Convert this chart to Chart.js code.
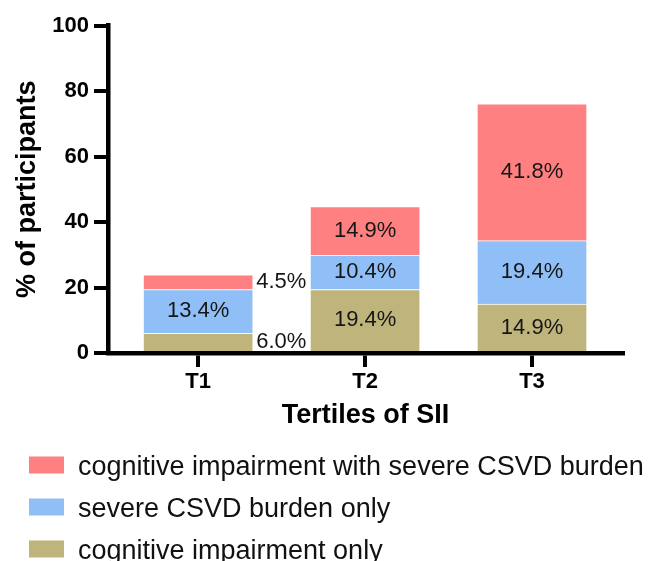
<!DOCTYPE html>
<html>
<head>
<meta charset="utf-8">
<script src="https://cdn.jsdelivr.net/npm/chart.js@4/dist/chart.umd.min.js"></script>
<style>
  html, body { margin: 0; padding: 0; background: #ffffff; }
  #wrap { width: 652px; height: 561px; }
</style>
</head>
<body>
<div id="wrap"><canvas id="c" width="652" height="561"></canvas></div>
<script>
// ---- data ----
const categories = ['T1', 'T2', 'T3'];
const cognitiveOnly = [6.0, 19.4, 14.9];
const severeCsvdOnly = [13.4, 10.4, 19.4];
const cognitiveWithCsvd = [4.5, 14.9, 41.8];
const yTicks = [0, 20, 40, 60, 80, 100];
const seriesNames = [
  'cognitive impairment only',
  'severe CSVD burden only',
  'cognitive impairment with severe CSVD burden'
];
const seriesColors = ['#BFB47B', '#90BFF8', '#FF8080'];

const FONT = "'Liberation Sans', Arial, Helvetica, sans-serif";

function toPoints(arr) { return arr.map((v, i) => ({ x: i, y: v })); }

const seriesValues = [cognitiveOnly, severeCsvdOnly, cognitiveWithCsvd];
const datasets = seriesValues.map((vals, k) => ({
  label: seriesNames[k],
  data: toPoints(vals),
  backgroundColor: seriesColors[k],
  borderColor: 'rgba(255,255,255,0.75)',
  borderWidth: 1,
  borderSkipped: 'bottom',
  barThickness: 110
}));

const labelPlugin = {
  id: 'segLabels',
  afterDatasetsDraw(chart) {
    const ctx = chart.ctx;
    ctx.save();
    ctx.font = '22px ' + FONT;
    ctx.fillStyle = '#161616';
    ctx.textBaseline = 'middle';
    chart.data.datasets.forEach((ds, di) => {
      const meta = chart.getDatasetMeta(di);
      meta.data.forEach((bar, i) => {
        const v = ds.data[i].y;
        const p = bar.getProps(['x', 'y', 'base', 'width'], true);
        const cy = (p.y + p.base) / 2;
        const txt = v.toFixed(1) + '%';
        if (v < 8) {
          ctx.textAlign = 'left';
          ctx.fillText(txt, p.x + p.width / 2 + 3, cy);
        } else {
          ctx.textAlign = 'center';
          ctx.fillText(txt, p.x, cy);
        }
      });
    });
    ctx.restore();
  }
};

const legendPlugin = {
  id: 'customLegend',
  afterDraw(chart) {
    const ctx = chart.ctx;
    ctx.save();
    ctx.font = '27px ' + FONT;
    ctx.textAlign = 'left';
    ctx.textBaseline = 'alphabetic';
    const order = [2, 1, 0];
    const centers = [465, 507, 549];
    order.forEach((di, row) => {
      const ds = chart.data.datasets[di];
      const cy = centers[row];
      ctx.fillStyle = ds.backgroundColor;
      ctx.fillRect(29, cy - 8.5, 35, 17);
      ctx.fillStyle = '#111';
      ctx.fillText(ds.label, 78, cy + 9.7);
    });
    ctx.restore();
  }
};

function zeroPad(scale) {
  scale.paddingTop = 0; scale.paddingBottom = 0;
  scale.paddingLeft = 0; scale.paddingRight = 0;
}

new Chart(document.getElementById('c'), {
  type: 'bar',
  data: { datasets },
  options: {
    responsive: false,
    animation: false,
    layout: { padding: { left: 0, right: 29, top: 25.5, bottom: 129 } },
    plugins: { legend: { display: false }, tooltip: { enabled: false } },
    scales: {
      x: {
        type: 'linear',
        stacked: true,
        offset: false,
        min: -0.54,
        max: 2.545,
        z: 1,
        afterBuildTicks(scale) { scale.ticks = categories.map((c, i) => ({ value: i })); },
        afterFit(scale) { scale.height = 79; zeroPad(scale); },
        ticks: {
          callback: (v) => categories[v] ?? '',
          font: { family: FONT, size: 22, weight: 'bold', lineHeight: 1.2 },
          color: '#000',
          padding: 2,
          maxRotation: 0,
          autoSkip: false
        },
        grid: { display: true, offset: false, drawOnChartArea: false, drawTicks: true, tickLength: 14, lineWidth: 4, color: '#000' },
        border: { display: true, color: '#000', width: 4.5 },
        title: {
          display: true,
          text: 'Tertiles of SII',
          font: { family: FONT, size: 27, weight: 'bold', lineHeight: 1.2 },
          color: '#000',
          padding: { top: 0, bottom: 0 }
        }
      },
      y: {
        stacked: true,
        min: 0,
        max: 100,
        z: 1,
        afterBuildTicks(scale) { scale.ticks = yTicks.map(v => ({ value: v })); },
        afterFit(scale) { scale.width = 108; zeroPad(scale); },
        ticks: {
          font: { family: FONT, size: 22, weight: 'bold', lineHeight: 1.2 },
          color: '#000',
          padding: 5
        },
        grid: { display: true, drawOnChartArea: false, drawTicks: true, tickLength: 14, lineWidth: 4, color: '#000' },
        border: { display: true, color: '#000', width: 4.5 },
        title: {
          display: true,
          text: '% of participants',
          font: { family: FONT, size: 27, weight: 'bold', lineHeight: 1.2 },
          color: '#000',
          padding: { top: 11, bottom: 0 }
        }
      }
    }
  },
  plugins: [labelPlugin, legendPlugin]
});
</script>
</body>
</html>
